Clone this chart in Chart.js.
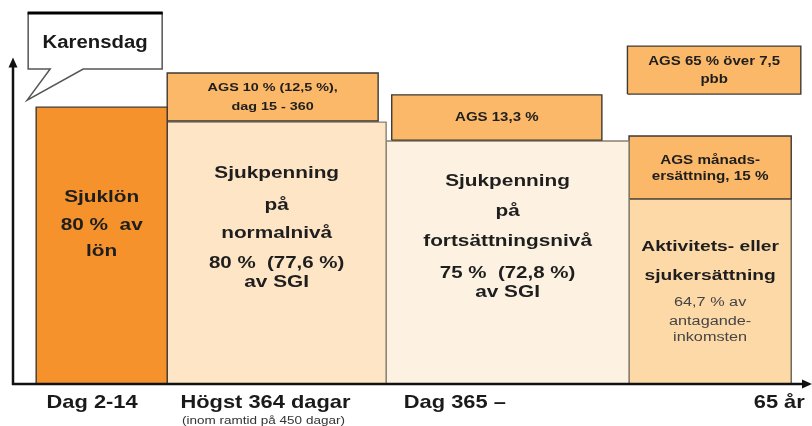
<!DOCTYPE html>
<html><head><meta charset="utf-8">
<script src="https://cdn.jsdelivr.net/npm/chart.js@4/dist/chart.umd.min.js"></script>
<style>html,body{margin:0;padding:0;background:#fff;}canvas{display:block}</style>
</head><body>
<canvas id="c" width="812" height="426"></canvas>
<script>
// ---- data (timeline units 0-100 on x, benefit level units 0-100 on y) ----
const categories = ['Sjuklön', 'AGS 10 %', 'Sjukpenning normalnivå', 'AGS 13,3 %',
  'Sjukpenning fortsättningsnivå', 'AGS 65 % över 7,5 pbb', 'AGS månadsersättning', 'Aktivitets- eller sjukersättning'];
const xStart = [2.9, 19.3, 19.3, 47.4, 46.7, 76.9, 77.1, 77.1];
const xEnd   = [19.3, 45.7, 46.7, 73.7, 77.1, 98.6, 97.4, 97.4];
const yLow   = [0, 68.5, 0, 63.5, 0, 75.5, 48.2, 0];
const yHigh  = [72.1, 81.0, 68.2, 75.3, 63.3, 88.0, 64.6, 48.2];
const boxLines = [
  ['Sjuklön', '80 %  av', 'lön'],
  ['AGS 10 % (12,5 %),', 'dag 15 - 360'],
  ['Sjukpenning', 'på', 'normalnivå', '80 %  (77,6 %)', 'av SGI'],
  ['AGS 13,3 %'],
  ['Sjukpenning', 'på', 'fortsättningsnivå', '75 %  (72,8 %)', 'av SGI'],
  ['AGS 65 % över 7,5', 'pbb'],
  ['AGS månads-', 'ersättning, 15 %'],
  ['Aktivitets- eller', 'sjukersättning', '64,7 % av', 'antagande-', 'inkomsten']
];
const tickPos = [9.9, 31.6, 55.3, 95.9];
const tickLabels = ['Dag 2-14', 'Högst 364 dagar', 'Dag 365 –', '65 år'];
const tickSub = ['', '(inom ramtid på 450 dagar)', '', ''];
const calloutText = 'Karensdag';

// ---- styles ----
const fills = ['#F5922B', '#FBB868', '#FDE5C6', '#FBB868', '#FDF2E2', '#FBB868', '#FBB868', '#FDD9A8'];
const borders = ['#3f3a33', '#3f3a33', '#8a8070', '#3f3a33', '#8a8070', '#3f3a33', '#3f3a33', '#6a6050'];
// per-box text layout: [pixel offset from box top, font size, weight, horizontal stretch, colour]
const layouts = [
  [[90,16,'bold',1.3],[118,16,'bold',1.3],[144,16,'bold',1.3]],
  [[15,11.5,'bold',1.25],[34,11.5,'bold',1.25]],
  [[51,16,'bold',1.3],[83,16,'bold',1.3],[111,16,'bold',1.3],[141,16,'bold',1.28],[160,16,'bold',1.3]],
  [[23,12,'bold',1.25]],
  [[41,16,'bold',1.3],[71,16,'bold',1.3],[101,16,'bold',1.3],[133,16,'bold',1.28],[152,16,'bold',1.3]],
  [[16,12,'bold',1.25],[34,12,'bold',1.25]],
  [[25,12,'bold',1.27],[41,12,'bold',1.27]],
  [[48,15,'bold',1.28],[77,15,'bold',1.28],[104,12.5,'normal',1.3,'#444'],[123,12.5,'normal',1.3,'#444'],[139,12.5,'normal',1.3,'#444']]
];

function polygon(i) {
  return [
    {x: xStart[i], y: yLow[i]}, {x: xStart[i], y: yHigh[i]},
    {x: xEnd[i], y: yHigh[i]}, {x: xEnd[i], y: yLow[i]}, {x: xStart[i], y: yLow[i]}
  ];
}

function sText(ctx, txt, x, y, size, weight, sx, color) {
  ctx.save();
  ctx.font = weight + ' ' + size + 'px "Liberation Sans", Arial, sans-serif';
  ctx.fillStyle = color || '#1e1e1e';
  ctx.textAlign = 'center';
  ctx.textBaseline = 'middle';
  ctx.translate(x, y);
  ctx.scale(sx, 1);
  ctx.fillText(txt, 0, 0);
  ctx.restore();
}

const decor = {
  id: 'decor',
  afterDatasetsDraw(chart) {
    const ctx = chart.ctx;
    const xs = chart.scales.x, ys = chart.scales.y;
    // box texts
    categories.forEach((c, i) => {
      const cx = (xs.getPixelForValue(xStart[i]) + xs.getPixelForValue(xEnd[i])) / 2;
      const top = ys.getPixelForValue(yHigh[i]);
      boxLines[i].forEach((t, j) => {
        const L = layouts[i][j];
        sText(ctx, t, cx, top + L[0], L[1], L[2], L[3], L[4]);
      });
    });
    // axes
    const x0 = xs.getPixelForValue(0), xMax = xs.getPixelForValue(100);
    const y0 = ys.getPixelForValue(0), yTip = ys.getPixelForValue(85);
    ctx.save();
    ctx.strokeStyle = '#111'; ctx.fillStyle = '#111'; ctx.lineWidth = 2.5;
    ctx.beginPath(); ctx.moveTo(x0 - 1, y0); ctx.lineTo(xMax - 8, y0); ctx.stroke();
    ctx.beginPath(); ctx.moveTo(x0, y0 + 1); ctx.lineTo(x0, yTip + 8); ctx.stroke();
    ctx.beginPath(); ctx.moveTo(xMax, y0); ctx.lineTo(xMax - 10, y0 - 4.5); ctx.lineTo(xMax - 10, y0 + 4.5); ctx.closePath(); ctx.fill();
    ctx.beginPath(); ctx.moveTo(x0, yTip); ctx.lineTo(x0 - 4.5, yTip + 10); ctx.lineTo(x0 + 4.5, yTip + 10); ctx.closePath(); ctx.fill();
    ctx.restore();
    // tick labels
    tickLabels.forEach((t, i) => {
      const px = xs.getPixelForValue(tickPos[i]);
      sText(ctx, t, px, y0 + 19, 19, 'bold', 1.15, '#1a1a1a');
      if (tickSub[i]) sText(ctx, tickSub[i], px - 2, y0 + 37, 10, 'normal', 1.35, '#333');
    });
    // callout "Karensdag" pointing at the first bar
    const bx = xs.getPixelForValue(xStart[0]), by = ys.getPixelForValue(yHigh[0]);
    const tipX = bx - 9, tipY = by - 7;
    const L = tipX + 1, R = L + 134, T = 13, B = 69;
    ctx.save();
    ctx.beginPath();
    ctx.moveTo(L, T); ctx.lineTo(R, T); ctx.lineTo(R, B); ctx.lineTo(L + 55, B);
    ctx.lineTo(tipX, tipY); ctx.lineTo(L + 22, B); ctx.lineTo(L, B); ctx.closePath();
    ctx.fillStyle = '#fff'; ctx.fill();
    ctx.strokeStyle = '#555'; ctx.lineWidth = 1.5; ctx.stroke();
    ctx.beginPath(); ctx.moveTo(L - 0.5, T); ctx.lineTo(R + 0.5, T);
    ctx.strokeStyle = '#000'; ctx.lineWidth = 3; ctx.stroke();
    ctx.restore();
    sText(ctx, calloutText, (L + R) / 2, 43, 18, 'bold', 1.13, '#1a1a1a');
  }
};

new Chart(document.getElementById('c'), {
  type: 'scatter',
  data: {
    datasets: categories.map((c, i) => ({
      label: c,
      data: polygon(i),
      showLine: true,
      fill: 'shape',
      backgroundColor: fills[i],
      borderColor: borders[i],
      borderWidth: 1.4,
      pointRadius: 0,
      pointHoverRadius: 0,
      tension: 0
    }))
  },
  options: {
    responsive: false,
    animation: false,
    devicePixelRatio: 1,
    layout: {padding: {left: 13, right: 0, top: 0, bottom: 42}},
    scales: {
      x: {type: 'linear', min: 0, max: 100, display: false},
      y: {type: 'linear', min: 0, max: 100, display: false}
    },
    plugins: {legend: {display: false}, tooltip: {enabled: false}},
    events: []
  },
  plugins: [decor]
});
</script>
</body></html>
